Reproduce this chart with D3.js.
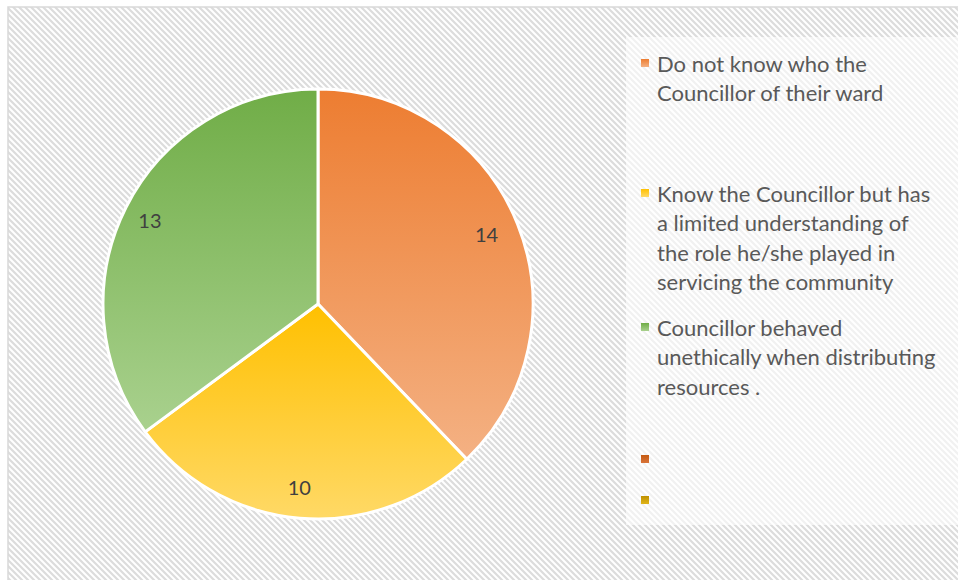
<!DOCTYPE html>
<html>
<head>
<meta charset="utf-8">
<script src="https://cdn.jsdelivr.net/npm/d3@7/dist/d3.min.js"></script>
<style>
  html, body { margin: 0; padding: 0; background: #fff; }
  svg { display: block; }
</style>
</head>
<body>
<svg id="chart" width="958" height="580"></svg>
<script>
// Survey responses about ward councillors
const categories = [
  ["Do not know who the", "Councillor of their ward"],
  ["Know the Councillor but has", "a limited understanding of", "the role he/she played in", "servicing the community"],
  ["Councillor behaved", "unethically when distributing", "resources ."],
  [""],
  [""]
];
const values = [14, 10, 13, 0, 0];
const topColors = ["#ED7D31", "#FFC000", "#70AD47", "#C55A11", "#BF9000"];
const bottomColors = ["#F4B183", "#FFD966", "#A9D18E", "#D9743A", "#E0B51A"];

const svg = d3.select("#chart");
const W = 958, H = 580;
const defs = svg.append("defs");

// Diagonal hatch used for the chart area fill
const hatch = defs.append("pattern")
  .attr("id", "hatch")
  .attr("patternUnits", "userSpaceOnUse")
  .attr("width", 6).attr("height", 6);
hatch.append("rect").attr("width", 6).attr("height", 6).attr("fill", "#ffffff");
hatch.append("path")
  .attr("d", "M-1,-1 L7,7 M-1,5 L1,7 M5,-1 L7,1")
  .attr("stroke", "#dcdcdc").attr("stroke-width", 2.2);

// Vertical gradient per category
values.forEach((v, i) => {
  const g = defs.append("linearGradient")
    .attr("id", "grad" + i)
    .attr("x1", 0).attr("y1", 0).attr("x2", 0).attr("y2", 1);
  g.append("stop").attr("offset", "0%").attr("stop-color", topColors[i]);
  g.append("stop").attr("offset", "100%").attr("stop-color", bottomColors[i]);
});

// Chart area with hatch and a light border on top/left
svg.append("rect")
  .attr("x", 8).attr("y", 7).attr("width", W).attr("height", H)
  .attr("fill", "url(#hatch)")
  .attr("stroke", "#d9d9d9").attr("stroke-width", 1.5);

// Legend panel
const legendX = 626, legendY = 37;
svg.append("rect")
  .attr("x", legendX).attr("y", legendY)
  .attr("width", W - legendX).attr("height", 525 - legendY)
  .attr("fill", "#ffffff").attr("fill-opacity", 0.6);

// Pie
const cx = 318, cy = 304, R = 215;
const data = values.map((v, i) => ({ v, i })).filter(d => d.v > 0);
const pie = d3.pie().value(d => d.v).sort(null);
const arc = d3.arc().innerRadius(0).outerRadius(R);
const labelArc = d3.arc().innerRadius(R * 0.86).outerRadius(R * 0.86);

const pg = svg.append("g").attr("transform", `translate(${cx},${cy})`);
const arcs = pie(data);
pg.selectAll("path.slice")
  .data(arcs)
  .join("path")
  .attr("class", "slice")
  .attr("d", arc)
  .attr("fill", d => `url(#grad${d.data.i})`)
  .attr("stroke", "#ffffff")
  .attr("stroke-width", 3)
  .attr("stroke-linejoin", "round");

pg.selectAll("text.val")
  .data(arcs)
  .join("text")
  .attr("class", "val")
  .attr("transform", d => {
    const [x, y] = labelArc.centroid(d);
    return `translate(${x - 3},${y - 1})`;
  })
  .attr("text-anchor", "middle")
  .attr("dominant-baseline", "central")
  .attr("font-family", "Lato, 'Open Sans', sans-serif")
  .attr("font-size", 20)
  .attr("fill", "#404040")
  .text(d => d.data.v);

// Legend
const itemY = [63, 193, 327, 459, 500];
const lineH = 29.5;
const lg = svg.append("g");
categories.forEach((lines, i) => {
  lg.append("rect")
    .attr("x", 641).attr("y", itemY[i] - 4)
    .attr("width", 8).attr("height", 8)
    .attr("fill", `url(#grad${i})`);
  const t = lg.append("text")
    .attr("font-family", "Lato, 'Open Sans', sans-serif")
    .attr("font-size", 22)
    .attr("fill", "#595959");
  lines.forEach((ln, k) => {
    t.append("tspan")
      .attr("x", 657)
      .attr("y", itemY[i] + k * lineH)
      .attr("dominant-baseline", "central")
      .text(ln);
  });
});
</script>
</body>
</html>
